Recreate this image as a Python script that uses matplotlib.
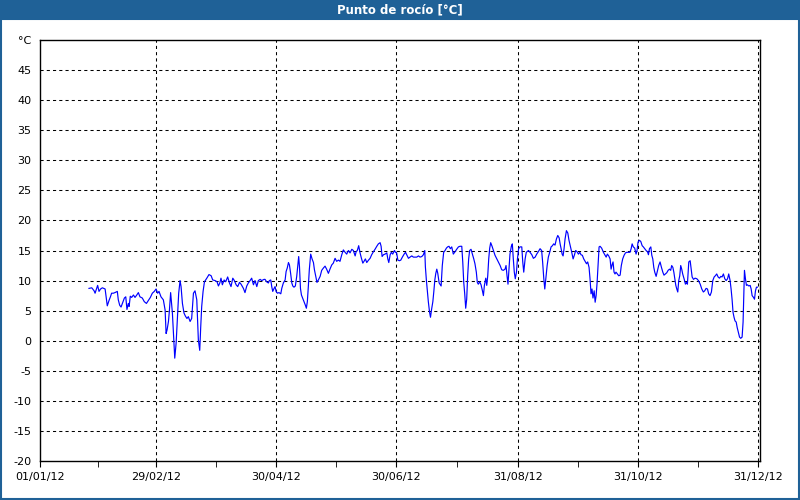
import matplotlib
matplotlib.use("Agg")
import matplotlib.pyplot as plt
import matplotlib.dates as mdates
from matplotlib.patches import Rectangle
import pandas as pd

title = "Punto de rocío [°C]"

# day offset from 01/01/12, dew point in degC
days = [
    24.9, 26.3, 27.5, 28.0, 28.5, 29.3, 30.0, 30.8, 31.7, 33.1, 33.6, 34.2, 35.1, 35.8, 36.4,
    37.3, 38.1, 39.3, 39.8, 40.5, 41.2, 42.0, 42.9, 43.6, 44.2, 44.9, 45.3, 45.9, 46.6, 47.5,
    48.3, 49.2, 50.0, 50.8, 52.0, 53.0, 54.1, 55.1, 56.1, 57.1, 58.1, 59.0, 59.8, 60.5, 61.5,
    62.7, 63.6, 64.1, 64.6, 65.3, 65.8, 66.4, 67.3, 68.0, 68.5, 69.2, 69.8, 70.5, 71.2, 71.7,
    72.4, 73.2, 73.9, 74.7, 75.4, 76.3, 77.1, 78.0, 78.8, 79.7, 80.5, 81.2, 81.7, 82.2, 82.9,
    83.6, 84.8, 85.9, 87.0, 87.8, 89.0, 90.0, 90.7, 91.4, 92.0, 92.7, 93.6, 94.4, 95.4, 96.3,
    97.1, 98.0, 98.8, 99.7, 100.5, 101.4, 102.2, 103.4, 104.2, 105.1, 105.9, 106.8, 107.6,
    108.5, 109.3, 110.2, 111.0, 111.9, 112.7, 113.9,
    114.4, 115.2, 116.1, 116.6, 117.3, 117.8, 118.3, 119.0, 119.5, 120.0, 120.7, 121.5, 122.4,
    122.9, 123.7, 124.6, 125.1, 125.7, 126.3, 126.8, 127.4, 128.0, 128.5, 129.1, 129.8, 130.5,
    131.0, 131.5, 131.9, 132.4, 132.9, 133.5, 134.2, 134.9, 135.4, 135.9, 136.4, 136.9, 137.6,
    138.3, 139.0, 139.5, 140.2, 140.8, 141.5, 142.4, 143.2, 144.1, 144.9, 145.7, 146.6, 147.4,
    148.3, 149.1, 150.0, 150.8, 151.7, 152.5, 153.4, 154.2, 155.1, 155.9, 156.8, 157.6, 158.5,
    159.3, 160.2, 160.7, 161.3, 162.0, 162.7, 163.4, 164.1, 164.7, 165.4, 166.1, 167.0, 167.8,
    168.6, 169.5, 170.3, 171.2, 172.0, 172.9, 173.4, 173.9, 174.6, 175.4, 176.3, 176.8, 177.3,
    178.0, 178.6, 179.3, 180.2, 180.7, 181.3, 181.9, 182.7, 183.4, 184.2, 185.1, 185.8, 186.4,
    187.3, 188.1, 189.0, 189.8, 190.7, 191.5, 192.4, 193.2, 194.1, 194.9, 195.6, 195.9, 196.4,
    196.9, 197.4, 198.0, 198.5, 199.0, 199.7, 200.2, 200.7, 201.2, 201.7, 202.2, 202.9,
    203.3, 203.9, 204.5, 205.2, 205.9, 206.6, 207.2, 207.9, 208.6, 209.3, 210.1, 211.0, 211.8,
    212.7, 213.5, 214.4, 214.9, 215.4, 215.9, 216.4, 216.9, 217.4, 217.9, 218.4, 219.1, 219.8,
    220.5, 221.1, 221.8, 222.3, 222.8, 223.5, 224.2, 224.9, 225.4, 225.9, 226.6, 227.1, 227.6,
    228.1, 228.6, 229.1, 229.8, 230.5, 231.3, 232.2, 233.0, 233.9, 234.7, 235.5, 236.4, 236.9,
    237.4, 237.9, 238.4, 238.9, 239.6, 240.1, 240.6, 241.1, 241.6, 242.2, 242.7, 243.3, 244.0,
    244.9, 245.4, 245.9, 246.6, 247.2, 248.3, 249.1, 250.0, 250.8, 251.7, 252.5, 253.3, 254.2,
    255.0, 255.5, 256.1, 256.6, 257.1, 257.8, 258.4, 259.1, 259.8, 260.5, 261.1, 261.8, 262.5,
    263.2, 263.9, 264.4, 264.9, 265.4, 265.9, 266.4, 266.9, 267.6, 268.3, 268.9, 269.6, 270.3,
    271.0, 271.7, 272.3, 273.0, 273.7, 274.4, 275.0, 275.7, 276.4, 277.1, 277.8, 278.4, 279.1,
    279.6, 280.1, 280.6, 281.1, 281.7, 282.2, 282.7, 283.2, 283.7, 284.2, 284.7,
    285.5, 286.4, 287.1, 287.8, 288.4, 289.1, 289.8, 290.3, 290.8, 291.3, 291.8, 292.3, 292.8,
    293.5, 294.2, 294.9, 295.5, 296.2, 296.9, 297.6, 298.3, 299.1, 299.9, 300.5, 301.0, 301.6,
    302.3, 303.0, 303.5, 304.0, 304.7, 305.4, 306.1, 306.7, 307.4, 308.1, 308.8, 309.3, 309.8,
    310.5, 311.0, 311.5, 312.0, 312.5, 313.2, 313.9, 314.5, 315.2, 315.9, 316.6, 317.2, 317.9,
    318.6, 319.3, 320.0, 320.6, 321.1, 321.7, 322.2, 322.7, 323.2, 323.7, 324.2, 324.7, 325.2,
    325.7, 326.2, 326.7, 327.4, 328.1, 328.6, 329.1, 329.8, 330.5, 331.0, 331.5, 332.2, 333.0,
    333.9, 334.7, 335.6, 336.4, 337.2, 337.9, 338.6, 339.3, 339.9, 340.6, 341.3, 342.0, 342.7,
    343.3, 344.0, 344.7, 345.4, 346.1, 346.7, 347.4, 348.1, 348.8, 349.5, 350.1, 350.8, 351.3,
    351.8, 352.3, 352.8, 353.3, 353.9, 354.4, 354.9, 355.6, 356.2, 356.9, 357.4, 357.8, 358.1,
    358.6, 359.1, 359.6, 360.3, 361.0, 361.5, 362.0, 362.7, 363.2, 363.7, 364.2, 364.7,
]
dew = [
    8.7, 8.8, 8.3, 7.9, 8.4, 9.2, 8.2, 8.6, 8.8, 8.6, 7.3, 5.8, 6.7, 7.3, 7.9,
    7.9, 8.0, 8.2, 6.8, 5.9, 5.6, 6.3, 7.1, 7.3, 5.2, 6.2, 5.7, 7.4, 7.2, 7.6,
    7.2, 7.6, 8.0, 7.3, 7.1, 6.5, 6.2, 6.7, 7.2, 7.9, 8.2, 8.6, 7.9, 8.2, 7.3,
    6.8, 5.1, 1.2, 1.8, 3.2, 5.1, 8.0, 4.6, 0.1, -2.9, -0.4, 3.4, 7.9, 10.0, 9.0,
    6.2, 4.6, 4.1, 3.7, 4.0, 3.2, 3.7, 7.9, 8.3, 6.8, 0.1, -1.6, 2.3, 5.7, 8.2,
    9.8, 10.4, 11.0, 10.8, 10.1, 10.0, 9.8, 9.1, 9.6, 10.4, 9.3, 10.1, 9.8, 10.6, 9.6,
    9.0, 10.4, 10.0, 9.3, 9.0, 9.7, 9.4, 8.7, 8.0, 9.1, 9.6, 10.0, 10.4,
    9.3, 10.0, 9.0, 10.0, 10.2, 10.0, 10.2,
    10.2, 9.8, 9.6, 10.0, 10.1, 9.0, 8.2, 8.7, 9.0, 8.2, 7.9, 8.0, 7.8,
    8.7, 9.6, 10.1, 11.5, 12.1, 13.0, 12.6, 11.2, 9.6, 9.1, 8.9, 9.1, 10.7,
    12.3, 14.0, 12.3, 8.7, 7.6, 7.1, 6.5, 5.9, 5.4, 6.5, 9.0, 11.8, 14.4,
    13.6, 13.0, 11.8, 10.7, 9.7, 10.1, 10.7, 11.7, 12.1, 12.4, 11.9, 11.2, 11.9,
    12.6, 12.9, 13.7, 13.2, 13.4, 13.2, 14.3, 15.1, 14.7, 14.4, 15.0, 14.6, 15.2,
    15.0, 14.1, 14.8, 15.0, 15.8, 14.6, 13.7, 12.9, 13.2, 13.6, 13.0, 13.4, 13.7,
    14.3, 14.8, 15.2, 15.7, 16.1, 16.3, 15.7, 14.0, 14.3, 14.4, 14.6, 13.6, 13.0,
    14.3, 14.7, 14.4, 15.0, 14.7, 14.6, 13.4, 13.3, 13.4, 13.9, 14.4, 14.7, 14.3,
    13.7, 13.9, 14.1, 13.9, 13.9, 13.9, 14.1, 13.9, 14.0, 14.3, 15.0, 12.3, 10.1,
    8.2, 6.5, 4.8, 3.9, 5.1, 6.5, 8.2, 10.1, 11.2, 11.9, 11.2, 9.6,
    9.4, 9.1, 12.5, 14.7, 15.0, 15.4, 15.6, 15.7, 15.3, 15.6, 14.4, 14.8, 15.2,
    15.6, 15.7, 15.7, 13.1, 9.7, 7.8, 5.4, 6.9, 10.8, 13.6, 15.0, 15.2, 14.4,
    13.6, 12.8, 11.4, 9.7, 9.4, 9.8, 9.3, 8.3, 7.5, 9.2, 10.4, 9.2, 10.8,
    13.6, 15.4, 16.3, 15.7, 15.0, 14.2, 13.6, 13.1, 12.5, 11.8, 11.7, 11.9, 12.5,
    10.8, 9.4, 11.9, 14.4, 15.7, 16.1, 13.6, 11.4, 10.3, 11.4, 13.6, 15.3, 15.6,
    15.6, 13.1, 11.4, 13.6, 14.7, 15.0, 14.7, 14.3, 13.7, 13.9, 14.4, 14.8, 15.3,
    15.0, 13.1, 10.3, 8.6, 10.3, 12.5, 13.9, 14.7, 15.6, 15.8, 16.1, 15.9, 16.9,
    17.5, 17.1, 16.1, 15.3, 14.4, 14.1, 15.3, 16.9, 18.3, 17.9, 16.7, 15.7, 14.7,
    13.6, 14.3, 15.0, 14.8, 14.4, 14.7, 14.3, 14.2, 13.6, 13.2, 12.8, 13.1, 12.2,
    10.3, 7.8, 8.6, 7.1, 8.3, 6.4, 7.5, 9.7, 12.5, 15.6, 15.7,
    15.4, 14.7, 14.3, 13.9, 14.4, 14.1, 13.6, 11.9, 12.6, 13.1, 11.4, 11.1, 11.4,
    11.1, 10.8, 10.9, 12.5, 13.6, 14.2, 14.6, 14.7, 14.7, 14.7, 15.3, 16.1, 15.6,
    15.4, 14.4, 15.0, 16.4, 16.7, 16.5, 15.8, 15.6, 15.3, 15.0, 14.8, 14.3, 15.3,
    15.6, 14.2, 13.6, 12.2, 11.4, 10.7, 11.7, 12.5, 13.1, 12.2, 11.4, 10.9, 11.1,
    11.3, 11.7, 11.9, 11.7, 12.5, 12.2, 11.4, 10.3, 9.2, 8.6, 8.1, 10.0, 10.8,
    12.5, 11.9, 11.1, 10.3, 9.4, 9.7, 9.4, 13.1, 13.3, 11.9, 10.6, 10.2, 10.4,
    10.3, 10.0, 9.4, 8.6, 8.1, 8.3, 8.7, 8.6, 7.8, 7.5, 8.1, 10.0, 10.6,
    10.8, 11.1, 10.6, 10.4, 10.7, 10.6, 11.1, 10.3, 10.0, 10.3, 11.1, 10.0, 8.6,
    6.9, 4.7, 3.9, 3.3, 3.1, 2.2, 1.5, 0.6, 0.4, 0.6, 3.1, 8.1, 11.7,
    10.3, 9.2, 9.3, 9.1, 9.2, 8.6, 7.5, 7.2, 6.9, 8.3, 8.9, 8.9,
]

tick_dates = ["2012-01-01", "2012-02-29", "2012-04-30", "2012-06-30",
              "2012-08-31", "2012-10-31", "2012-12-31"]
y_ticks = list(range(-20, 51, 5))
y_labels = [str(v) for v in y_ticks[:-1]] + ["°C"]

start = pd.Timestamp("2012-01-01")
x = start + pd.to_timedelta(days, unit="D")
majors = pd.to_datetime(tick_dates)
minors = majors[:-1] + (majors[1:] - majors[:-1]) / 2

fig = plt.figure(figsize=(8, 5), dpi=100)
fig.patch.set_facecolor("white")
bar_col = "#1f6197"
fig.patches.append(Rectangle((0, 0.96), 1, 0.04, transform=fig.transFigure,
                             facecolor=bar_col, edgecolor="none", zorder=0))
fig.patches.append(Rectangle((0.0012, 0.002), 0.9976, 0.96, transform=fig.transFigure,
                             facecolor="none", edgecolor=bar_col, lw=1.5, zorder=0))
fig.text(0.5, 0.98, title, color="white", fontsize=8.5, fontweight="bold",
         ha="center", va="center")

ax = fig.add_axes([0.05, 0.078, 0.9, 0.842])
ax.plot(x, dew, color="#0000ff", lw=0.85)

ax.set_ylim(-20, 50)
ax.set_yticks(y_ticks)
ax.set_yticklabels(y_labels)
ax.set_xlim(start, pd.Timestamp("2013-01-01"))
ax.set_xticks(majors)
ax.set_xticks(minors, minor=True)
ax.xaxis.set_major_formatter(mdates.DateFormatter("%d/%m/%y"))

ax.tick_params(axis="y", length=0, pad=6, labelsize=8)
ax.tick_params(axis="x", which="both", direction="out", length=4, pad=4, labelsize=8)
for s in ax.spines.values():
    s.set_linewidth(1)
    s.set_color("black")

for v in y_ticks[1:-1]:
    ax.axhline(v, color="black", lw=0.75, ls=(0, (3, 3)), zorder=0)
for d in majors[1:]:
    ax.axvline(d, color="black", lw=0.75, ls=(0, (3, 3)), zorder=0)

fig.savefig("out.png", dpi=100)
